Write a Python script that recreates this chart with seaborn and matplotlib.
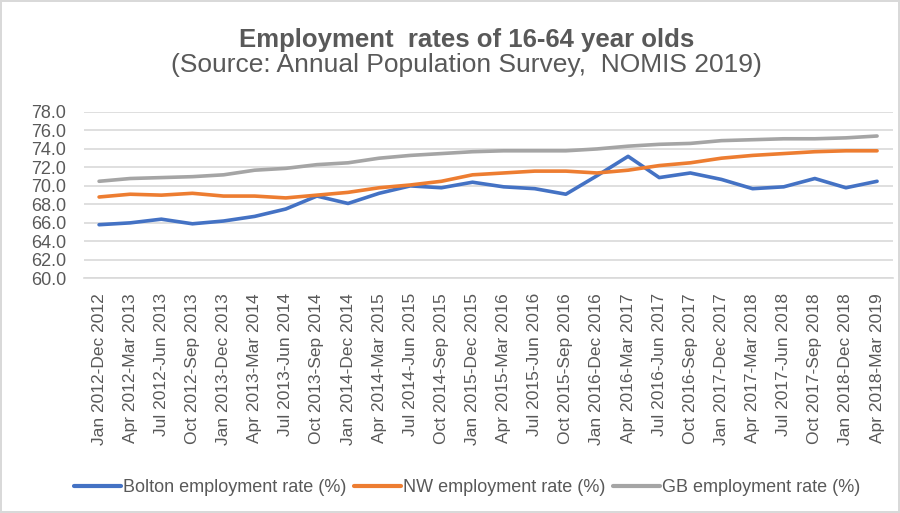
import matplotlib
matplotlib.use("Agg")
import matplotlib.pyplot as plt
import seaborn as sns
import pandas as pd

categories = [
    "Jan 2012-Dec 2012", "Apr 2012-Mar 2013", "Jul 2012-Jun 2013", "Oct 2012-Sep 2013",
    "Jan 2013-Dec 2013", "Apr 2013-Mar 2014", "Jul 2013-Jun 2014", "Oct 2013-Sep 2014",
    "Jan 2014-Dec 2014", "Apr 2014-Mar 2015", "Jul 2014-Jun 2015", "Oct 2014-Sep 2015",
    "Jan 2015-Dec 2015", "Apr 2015-Mar 2016", "Jul 2015-Jun 2016", "Oct 2015-Sep 2016",
    "Jan 2016-Dec 2016", "Apr 2016-Mar 2017", "Jul 2016-Jun 2017", "Oct 2016-Sep 2017",
    "Jan 2017-Dec 2017", "Apr 2017-Mar 2018", "Jul 2017-Jun 2018", "Oct 2017-Sep 2018",
    "Jan 2018-Dec 2018", "Apr 2018-Mar 2019",
]
bolton = [65.8, 66.0, 66.4, 65.9, 66.2, 66.7, 67.5, 68.9, 68.1, 69.2, 70.0, 69.8,
          70.4, 69.9, 69.7, 69.1, 71.1, 73.2, 70.9, 71.4, 70.7, 69.7, 69.9, 70.8, 69.8, 70.5]
nw = [68.8, 69.1, 69.0, 69.2, 68.9, 68.9, 68.7, 69.0, 69.3, 69.8, 70.1, 70.5,
      71.2, 71.4, 71.6, 71.6, 71.4, 71.7, 72.2, 72.5, 73.0, 73.3, 73.5, 73.7, 73.8, 73.8]
gb = [70.5, 70.8, 70.9, 71.0, 71.2, 71.7, 71.9, 72.3, 72.5, 73.0, 73.3, 73.5,
      73.7, 73.8, 73.8, 73.8, 74.0, 74.3, 74.5, 74.6, 74.9, 75.0, 75.1, 75.1, 75.2, 75.4]
series_names = ["Bolton employment rate (%)", "NW employment rate (%)", "GB employment rate (%)"]
yticks = [60, 62, 64, 66, 68, 70, 72, 74, 76, 78]

df = pd.DataFrame({
    "period": categories * 3,
    "idx": list(range(len(categories))) * 3,
    "value": bolton + nw + gb,
    "series": [series_names[0]] * 26 + [series_names[1]] * 26 + [series_names[2]] * 26,
})

sns.set_theme(style="white")
plt.rcParams["font.family"] = ["Liberation Sans", "DejaVu Sans"]
text_col = "#595959"

fig = plt.figure(figsize=(9, 5.13), dpi=100)
fig.patch.set_facecolor("white")
fig.patch.set_edgecolor("#d9d9d9")
fig.patch.set_linewidth(1.5)
ax = fig.add_axes([0.0928, 0.4575, 0.899, 0.3242])

palette = {series_names[0]: "#4472C4", series_names[1]: "#ED7D31", series_names[2]: "#A5A5A5"}
sns.lineplot(data=df, x="idx", y="value", hue="series", palette=palette, ax=ax,
             linewidth=2.6, legend=False, hue_order=series_names)

ax.set_xlim(-0.5, len(categories) - 0.5)
ax.set_ylim(60, 78)
ax.set_yticks(yticks)
ax.set_yticklabels([f"{v:.1f}" for v in yticks], color=text_col, fontsize=13)
ax.set_xticks(range(len(categories)))
ax.set_xticklabels(categories, rotation=90, color=text_col, fontsize=12.5)
ax.tick_params(axis="y", length=0, pad=12.6)
ax.tick_params(axis="x", length=0, pad=10.5)
ax.grid(axis="y", color="#d9d9d9", linewidth=1.2)
ax.set_axisbelow(True)
for s in ["top", "right", "left"]:
    ax.spines[s].set_visible(False)
ax.spines["bottom"].set_color("#d9d9d9")
ax.spines["bottom"].set_linewidth(1.2)
ax.set_xlabel("")
ax.set_ylabel("")

handles = [plt.Line2D([0], [0], color=palette[n], linewidth=3) for n in series_names]
fig.legend(handles, series_names, loc="center", bbox_to_anchor=(0.519, 0.049), ncol=3,
           frameon=False, fontsize=13, handlelength=2.6, handletextpad=0.1,
           columnspacing=0.45, labelcolor=text_col)

fig.text(0.518, 1 - 46.7 / 513, "Employment  rates of 16-64 year olds", ha="center", va="baseline",
         fontsize=18.5, fontweight="bold", color=text_col)
fig.text(0.518, 1 - 72 / 513, "(Source: Annual Population Survey,  NOMIS 2019)", ha="center",
         va="baseline", fontsize=19, color=text_col)

fig.savefig("out.png", dpi=100, facecolor=fig.get_facecolor(), edgecolor=fig.get_edgecolor())
